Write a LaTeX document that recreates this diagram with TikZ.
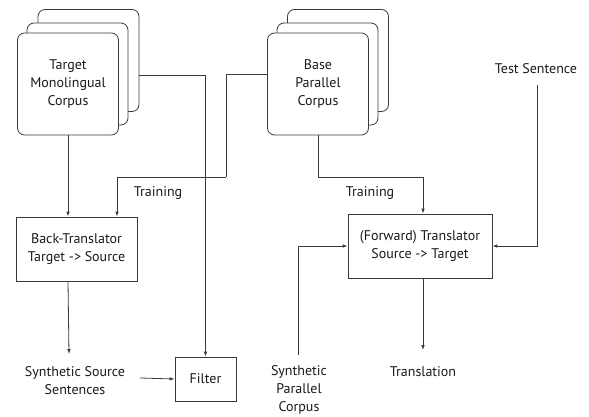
\documentclass[tikz,border=0pt]{standalone}
\usepackage{fontspec}
\setmainfont{PT Sans}
\usetikzlibrary{arrows.meta,calc}
\definecolor{lc}{HTML}{3A3A3A}
\definecolor{tc}{HTML}{1A1A1A}
\begin{document}
\begin{tikzpicture}[x=1pt,y=-1pt,
  every node/.style={font=\fontsize{14}{18}\selectfont, text=tc, align=center},
  card/.style={draw=lc, fill=white, rounded corners=7pt, line width=0.8pt, minimum width=101pt, minimum height=102pt, inner sep=0pt},
  box/.style={draw=lc, fill=white, line width=0.8pt, inner sep=0pt},
  lbl/.style={inner sep=1pt},
  arr/.style={draw=lc, line width=0.8pt, -{Latex[length=5pt,width=3.6pt]}},
  ln/.style={draw=lc, line width=0.8pt}]
\useasboundingbox (0,0) rectangle (589,417);
% Target monolingual corpus stack
\node[card] (tm3) at (88.5,60.5) {};
\node[card] (tm2) at (77.5,74) {};
\node[card] (tm1) at (68,84) {Target\\Monolingual\\Corpus};
% Base parallel corpus stack
\node[card] (bp3) at (338,60.5) {};
\node[card] (bp2) at (327.5,74) {};
\node[card] (bp1) at (318,84) {Base\\Parallel\\Corpus};
% boxes
\node[box, minimum width=121pt, minimum height=64pt] (bt) at (76.5,249) {Back-Translator\\Target -> Source};
\node[box, minimum width=61pt, minimum height=44pt] (filter) at (205.5,379) {Filter};
\node[box, minimum width=144pt, minimum height=64pt] (ft) at (420,246) {(Forward) Translator\\Source -> Target};
% labels
\node[lbl] (sss) at (75,381) {Synthetic Source\\Sentences};
\node[lbl] (test) at (536,69) {Test Sentence};
\node[lbl] (spc) at (299,390) {Synthetic\\Parallel\\Corpus};
\node[lbl] (trans) at (423,372) {Translation};
\node[lbl] (tr1) at (158,193) {Training};
\node[lbl] (tr2) at (370,193) {Training};
% bend points
\coordinate (a1) at ($(tm3.north east)+(0,66)$);
\coordinate (b1) at ($(bp1.north west)+(0,42)$);
\coordinate (b2) at (226,177);
\coordinate (b3) at (117,177);
\coordinate (c2) at (423,177);
\coordinate (t1) at (537,85);
\coordinate (s1) at (298,355);
% connectors
\draw[arr] (a1) -| (filter.north);
\draw[ln] (b1) -| (b2);
\draw[arr] (b2) -- (b3) -- (b3 |- bt.north);
\draw[arr] (tm1.south) -- (tm1.south |- bt.north);
\draw[arr] (bt.south -| tm1.south) -- (69,354);
\draw[arr] (140,378) -- (filter.west);
\draw[arr] (bp1.south) |- (c2) -- (c2 |- ft.north);
\draw[arr] (t1) |- (ft.east);
\draw[arr] (s1) |- (ft.west);
\draw[arr] (ft.south -| c2) -- (423,350);
\end{tikzpicture}
\end{document}
